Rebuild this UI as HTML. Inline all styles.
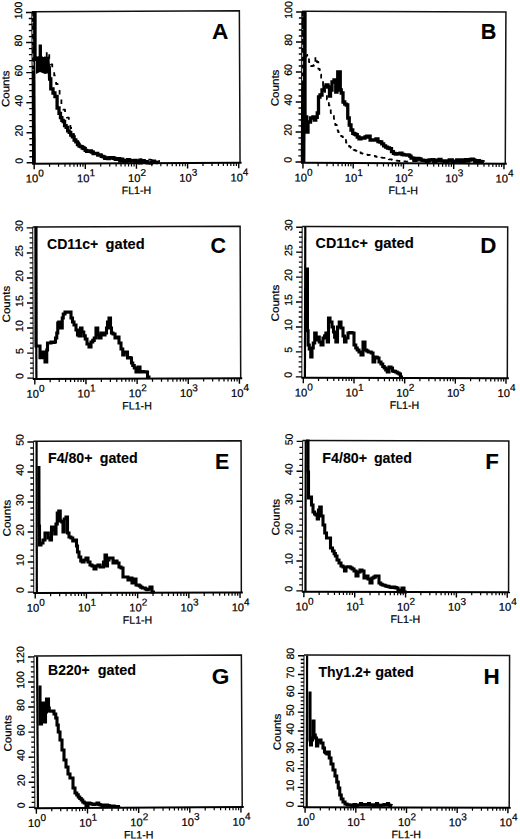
<!DOCTYPE html>
<html><head><meta charset="utf-8"><style>
html,body{margin:0;padding:0;background:#fff;}
svg{display:block;}
text{font-family:"Liberation Sans", sans-serif;fill:#000;stroke:#000;stroke-width:0.22px;}
text[font-weight=bold]{stroke-width:0.1px;}
</style></head><body>
<svg width="520" height="839" viewBox="0 0 520 839">
<rect width="520" height="839" fill="#fff"/>
<g transform="rotate(-0.26 136.0 87.2)"><path d="M32.3 11.2H239.7V163.2" fill="none" stroke="#111" stroke-width="1.5"/><path d="M33.6 11.2V163.2" stroke="#000" stroke-width="3.8"/><path d="M33.1 13.5V70" stroke="#fff" stroke-width="0.9" stroke-dasharray="4.2 3.7"/><path d="M31.8 163.2H241.2" stroke="#000" stroke-width="2"/><path d="M26.3 162.3H32.3" stroke="#000" stroke-width="1.4"/><path d="M29.1 156.29H32.3" stroke="#000" stroke-width="1.3"/><path d="M29.1 150.28H32.3" stroke="#000" stroke-width="1.3"/><path d="M29.1 144.26H32.3" stroke="#000" stroke-width="1.3"/><path d="M29.1 138.25H32.3" stroke="#000" stroke-width="1.3"/><path d="M26.3 132.24H32.3" stroke="#000" stroke-width="1.4"/><path d="M29.1 126.23H32.3" stroke="#000" stroke-width="1.3"/><path d="M29.1 120.22H32.3" stroke="#000" stroke-width="1.3"/><path d="M29.1 114.2H32.3" stroke="#000" stroke-width="1.3"/><path d="M29.1 108.19H32.3" stroke="#000" stroke-width="1.3"/><path d="M26.3 102.18H32.3" stroke="#000" stroke-width="1.4"/><path d="M29.1 96.17H32.3" stroke="#000" stroke-width="1.3"/><path d="M29.1 90.16H32.3" stroke="#000" stroke-width="1.3"/><path d="M29.1 84.14H32.3" stroke="#000" stroke-width="1.3"/><path d="M29.1 78.13H32.3" stroke="#000" stroke-width="1.3"/><path d="M26.3 72.12H32.3" stroke="#000" stroke-width="1.4"/><path d="M29.1 66.11H32.3" stroke="#000" stroke-width="1.3"/><path d="M29.1 60.1H32.3" stroke="#000" stroke-width="1.3"/><path d="M29.1 54.08H32.3" stroke="#000" stroke-width="1.3"/><path d="M29.1 48.07H32.3" stroke="#000" stroke-width="1.3"/><path d="M26.3 42.06H32.3" stroke="#000" stroke-width="1.4"/><path d="M29.1 36.05H32.3" stroke="#000" stroke-width="1.3"/><path d="M29.1 30.04H32.3" stroke="#000" stroke-width="1.3"/><path d="M29.1 24.02H32.3" stroke="#000" stroke-width="1.3"/><path d="M29.1 18.01H32.3" stroke="#000" stroke-width="1.3"/><path d="M26.3 12H32.3" stroke="#000" stroke-width="1.4"/><path d="M33.8 163.2V168.7" stroke="#000" stroke-width="1.4"/><path d="M49.2 163.2V166.4" stroke="#000" stroke-width="1.2"/><path d="M58.2 163.2V166.4" stroke="#000" stroke-width="1.2"/><path d="M64.6 163.2V166.4" stroke="#000" stroke-width="1.2"/><path d="M69.55 163.2V166.4" stroke="#000" stroke-width="1.2"/><path d="M73.6 163.2V166.4" stroke="#000" stroke-width="1.2"/><path d="M77.03 163.2V166.4" stroke="#000" stroke-width="1.2"/><path d="M79.99 163.2V166.4" stroke="#000" stroke-width="1.2"/><path d="M82.61 163.2V166.4" stroke="#000" stroke-width="1.2"/><path d="M84.95 163.2V168.7" stroke="#000" stroke-width="1.4"/><path d="M100.35 163.2V166.4" stroke="#000" stroke-width="1.2"/><path d="M109.35 163.2V166.4" stroke="#000" stroke-width="1.2"/><path d="M115.75 163.2V166.4" stroke="#000" stroke-width="1.2"/><path d="M120.7 163.2V166.4" stroke="#000" stroke-width="1.2"/><path d="M124.75 163.2V166.4" stroke="#000" stroke-width="1.2"/><path d="M128.18 163.2V166.4" stroke="#000" stroke-width="1.2"/><path d="M131.14 163.2V166.4" stroke="#000" stroke-width="1.2"/><path d="M133.76 163.2V166.4" stroke="#000" stroke-width="1.2"/><path d="M136.1 163.2V168.7" stroke="#000" stroke-width="1.4"/><path d="M151.5 163.2V166.4" stroke="#000" stroke-width="1.2"/><path d="M160.5 163.2V166.4" stroke="#000" stroke-width="1.2"/><path d="M166.9 163.2V166.4" stroke="#000" stroke-width="1.2"/><path d="M171.85 163.2V166.4" stroke="#000" stroke-width="1.2"/><path d="M175.9 163.2V166.4" stroke="#000" stroke-width="1.2"/><path d="M179.33 163.2V166.4" stroke="#000" stroke-width="1.2"/><path d="M182.29 163.2V166.4" stroke="#000" stroke-width="1.2"/><path d="M184.91 163.2V166.4" stroke="#000" stroke-width="1.2"/><path d="M187.25 163.2V168.7" stroke="#000" stroke-width="1.4"/><path d="M202.65 163.2V166.4" stroke="#000" stroke-width="1.2"/><path d="M211.65 163.2V166.4" stroke="#000" stroke-width="1.2"/><path d="M218.05 163.2V166.4" stroke="#000" stroke-width="1.2"/><path d="M223 163.2V166.4" stroke="#000" stroke-width="1.2"/><path d="M227.05 163.2V166.4" stroke="#000" stroke-width="1.2"/><path d="M230.48 163.2V166.4" stroke="#000" stroke-width="1.2"/><path d="M233.44 163.2V166.4" stroke="#000" stroke-width="1.2"/><path d="M236.06 163.2V166.4" stroke="#000" stroke-width="1.2"/><path d="M238.4 163.2V168.7" stroke="#000" stroke-width="1.4"/><text transform="translate(22.3 160.3) rotate(-90)" text-anchor="middle" font-size="10.5">0</text><text transform="translate(22.3 130.24) rotate(-90)" text-anchor="middle" font-size="10.5">20</text><text transform="translate(22.3 100.18) rotate(-90)" text-anchor="middle" font-size="10.5">40</text><text transform="translate(22.3 70.12) rotate(-90)" text-anchor="middle" font-size="10.5">60</text><text transform="translate(22.3 40.06) rotate(-90)" text-anchor="middle" font-size="10.5">80</text><text transform="translate(22.3 10) rotate(-90)" text-anchor="middle" font-size="10.5">100</text><text transform="translate(9.2 88.2) rotate(-90)" text-anchor="middle" font-size="10.6" textLength="36.7" lengthAdjust="spacingAndGlyphs">Counts</text><text x="34.4" y="181.9" text-anchor="middle" font-size="11.2">10<tspan dy="-5.9" font-size="10">0</tspan></text><text x="85.55" y="181.9" text-anchor="middle" font-size="11.2">10<tspan dy="-5.9" font-size="10">1</tspan></text><text x="136.7" y="181.9" text-anchor="middle" font-size="11.2">10<tspan dy="-5.9" font-size="10">2</tspan></text><text x="187.85" y="181.9" text-anchor="middle" font-size="11.2">10<tspan dy="-5.9" font-size="10">3</tspan></text><text x="239" y="181.9" text-anchor="middle" font-size="11.2">10<tspan dy="-5.9" font-size="10">4</tspan></text><text x="135.95" y="194.1" text-anchor="middle" font-size="10.8" textLength="29.5" lengthAdjust="spacingAndGlyphs">FL1-H</text></g><text x="211.94" y="39.40" font-size="22" font-weight="bold" textLength="16.36" lengthAdjust="spacingAndGlyphs">A</text><path d="M36 57 L48 57 L49.5 64 L49.5 73 L45 74 L40 72 L36 74Z" fill="#000"/><path d="M33.2 11.8 L33.2 60 L33.9 60 L33.9 60.75 L35.3 60.75 L35.3 62 L36 62 L37 62 L37 59.75 L39 59.75 L39 58 L40 58 L41 58 L41 57.22 L43 57.22 L43 56 L44 56 L45 56 L45 56 L46 56 L46.75 56 L46.75 51 L47.5 51 L48 51 L48 51 L48.5 51 L49.25 51 L49.25 60 L50 60 L50.75 60 L50.75 64.31 L52.25 64.31 L52.25 68.7 L53 68.7 L54.2 68.7 L54.2 75.4 L55.4 75.4 L56.1 75.4 L56.1 84 L56.8 84 L57.65 84 L57.65 89 L58.5 89 L59.6 89 L59.6 94.6 L60.7 94.6 L61.4 94.6 L61.4 105.2 L62.1 105.2 L63.07 105.2 L63.07 109.62 L65.03 109.62 L65.03 114 L66 114 L66.95 114 L66.95 117.63 L68.85 117.63 L68.85 121 L69.8 121 L70.4 121 L70.4 128 L71 128 L72 128 L72 134 L73 134 L74 134 L74 137.13 L76 137.13 L76 140.5 L77 140.5 L77.75 140.5 L77.75 142.28 L79.25 142.28 L79.25 143.66 L80.75 143.66 L80.75 145.24 L82.25 145.24 L82.25 146.5 L83 146.5 L83.88 146.5 L83.88 147.38 L85.62 147.38 L85.62 148.43 L87.38 148.43 L87.38 149.85 L89.12 149.85 L89.12 150.8 L90 150.8 L90.8 150.8 L90.8 151.54 L92.4 151.54 L92.4 151.83 L94 151.83 L94 152.95 L95.6 152.95 L95.6 153.44 L97.2 153.44 L97.2 154 L98 154 L98.75 154 L98.75 154.4 L100.25 154.4 L100.25 154.52 L101.75 154.52 L101.75 155.23 L103.25 155.23 L103.25 155.68 L104.75 155.68 L104.75 155.78 L106.25 155.78 L106.25 156.13 L107.75 156.13 L107.75 156.89 L109.25 156.89 L109.25 157 L110 157 L110.83 157 L110.83 157.37 L112.5 157.37 L112.5 157.32 L114.17 157.32 L114.17 157.5 L115.83 157.5 L115.83 158.02 L117.5 158.02 L117.5 158.38 L119.17 158.38 L119.17 158.8 L120.83 158.8 L120.83 158.89 L122.5 158.89 L122.5 159.1 L124.17 159.1 L124.17 159.3 L125 159.3 L125.83 159.3 L125.83 159.1 L127.5 159.1 L127.5 159.54 L129.17 159.54 L129.17 159.45 L130.83 159.45 L130.83 159.52 L132.5 159.52 L132.5 159.72 L134.17 159.72 L134.17 159.8 L135 159.8 L135.75 159.8 L135.75 159.75 L137.25 159.75 L137.25 159.78 L138.75 159.78 L138.75 159.29 L140.25 159.29 L140.25 159.2 L141 159.2 L141.75 159.2 L141.75 159.39 L143.25 159.39 L143.25 159.35 L144.75 159.35 L144.75 159.19 L146.25 159.19 L146.25 159.65 L147.75 159.65 L147.75 159.73 L149.25 159.73 L149.25 159.6 L150 159.6 L150.83 159.6 L150.83 159.95 L152.5 159.95 L152.5 160.39 L154.17 160.39 L154.17 160.35 L155.83 160.35 L155.83 160.89 L157.5 160.89 L157.5 160.94 L159.17 160.94 L159.17 161.5 L160 161.5" fill="none" stroke="#000" stroke-width="1.8" stroke-dasharray="4.5 7" stroke-linejoin="round"/><path d="M35 11.5 L35 58 L35.88 58 L35.88 59.26 L37.65 59.26 L37.65 58.82 L39.42 58.82 L39.42 58 L40.3 58 L40.3 44.5 L40.35 58 L41.01 58 L41.01 59.43 L42.34 59.43 L42.34 60 L43 60 L43 66 L44 66 L44 66 L45 66 L45 59 L45.75 59 L45.75 58.06 L47.25 58.06 L47.25 59 L48 59 L48 66 L48.65 66 L48.65 68 L49.3 68 L49.6 79 L50.8 79 L50.8 88.8 L52 88.8 L53 88.8 L53 93 L54 93 L54.95 93 L54.95 96.5 L55.9 96.5 L57.1 96.5 L57.1 108 L58.3 108 L59.02 108 L59.02 113.38 L60.48 113.38 L60.48 117.7 L61.2 117.7 L61.85 117.7 L61.85 120.42 L63.15 120.42 L63.15 121.5 L63.8 121.5 L64.57 121.5 L64.57 125.55 L66.12 125.55 L66.12 127.3 L66.9 127.3 L67.67 127.3 L67.67 130.88 L69.2 130.88 L69.2 132.33 L70.73 132.33 L70.73 135 L71.5 135 L72.38 135 L72.38 136.9 L74.12 136.9 L74.12 140 L75 140 L75.83 140 L75.83 141.97 L77.47 141.97 L77.47 144.6 L78.3 144.6 L79.08 144.6 L79.08 146.11 L80.65 146.11 L80.65 146.53 L82.22 146.53 L82.22 148 L83 148 L83.73 148 L83.73 148.53 L85.18 148.53 L85.18 150.3 L86.62 150.3 L86.62 151.32 L88.08 151.32 L88.08 151.3 L88.8 151.3 L89.67 151.3 L89.67 150.97 L91.4 150.97 L91.4 152.02 L93.13 152.02 L93.13 153.5 L94 153.5 L94.75 153.5 L94.75 153.42 L96.25 153.42 L96.25 153.4 L97.75 153.4 L97.75 155.2 L98.5 155.2 L99.42 155.2 L99.42 155.21 L101.25 155.21 L101.25 156.38 L103.08 156.38 L103.08 156.8 L104 156.8 L104.75 156.8 L104.75 158.31 L106.25 158.31 L106.25 157.91 L107.75 157.91 L107.75 158.67 L109.25 158.67 L109.25 158 L110 158 L110.75 158 L110.75 158.17 L112.25 158.17 L112.25 157.53 L113.75 157.53 L113.75 158.32 L115.25 158.32 L115.25 159.3 L116 159.3 L116.75 159.3 L116.75 158.76 L118.25 158.76 L118.25 158.62 L119.75 158.62 L119.75 161.06 L121.25 161.06 L121.25 159.06 L122.75 159.06 L122.75 160.4 L123.5 160.4 L124.31 160.4 L124.31 161.37 L125.94 161.37 L125.94 160.77 L127.56 160.77 L127.56 159.57 L129.19 159.57 L129.19 161 L130 161 L130.88 161 L130.88 160.65 L132.62 160.65 L132.62 161.1 L134.38 161.1 L134.38 160.44 L136.12 160.44 L136.12 161.5 L137 161.5 L137.8 161.5 L137.8 162.08 L139.4 162.08 L139.4 162.75 L141 162.75 L141 161.56 L142.6 161.56 L142.6 160.72 L144.2 160.72 L144.2 162 L145 162 L145.73 162 L145.73 161.72 L147.19 161.72 L147.19 162.88 L148.65 162.88 L148.65 162.84 L150.11 162.84 L150.11 163.19 L151.57 163.19 L151.57 162.3 L152.3 162.3 L153.01 162.3 L153.01 161.14 L154.44 161.14 L154.44 162.1 L155.86 162.1 L155.86 162.3 L157.29 162.3 L157.29 162.6 L158 162.6" fill="none" stroke="#000" stroke-width="3.3" stroke-linejoin="miter" stroke-miterlimit="2"/>
<g transform="rotate(0.24 403.7 87.5)"><path d="M301.8 11.65H505.6V163.3" fill="none" stroke="#111" stroke-width="1.5"/><path d="M303.4 11.65V163.3" stroke="#000" stroke-width="4.6"/><path d="M302.6 13.5V84" stroke="#fff" stroke-width="0.9" stroke-dasharray="4.2 3.7"/><path d="M301.3 163.3H507.1" stroke="#000" stroke-width="2"/><path d="M295.8 162.4H301.8" stroke="#000" stroke-width="1.4"/><path d="M298.6 156.4H301.8" stroke="#000" stroke-width="1.3"/><path d="M298.6 150.4H301.8" stroke="#000" stroke-width="1.3"/><path d="M298.6 144.41H301.8" stroke="#000" stroke-width="1.3"/><path d="M298.6 138.41H301.8" stroke="#000" stroke-width="1.3"/><path d="M295.8 132.41H301.8" stroke="#000" stroke-width="1.4"/><path d="M298.6 126.41H301.8" stroke="#000" stroke-width="1.3"/><path d="M298.6 120.41H301.8" stroke="#000" stroke-width="1.3"/><path d="M298.6 114.42H301.8" stroke="#000" stroke-width="1.3"/><path d="M298.6 108.42H301.8" stroke="#000" stroke-width="1.3"/><path d="M295.8 102.42H301.8" stroke="#000" stroke-width="1.4"/><path d="M298.6 96.42H301.8" stroke="#000" stroke-width="1.3"/><path d="M298.6 90.42H301.8" stroke="#000" stroke-width="1.3"/><path d="M298.6 84.43H301.8" stroke="#000" stroke-width="1.3"/><path d="M298.6 78.43H301.8" stroke="#000" stroke-width="1.3"/><path d="M295.8 72.43H301.8" stroke="#000" stroke-width="1.4"/><path d="M298.6 66.43H301.8" stroke="#000" stroke-width="1.3"/><path d="M298.6 60.43H301.8" stroke="#000" stroke-width="1.3"/><path d="M298.6 54.44H301.8" stroke="#000" stroke-width="1.3"/><path d="M298.6 48.44H301.8" stroke="#000" stroke-width="1.3"/><path d="M295.8 42.44H301.8" stroke="#000" stroke-width="1.4"/><path d="M298.6 36.44H301.8" stroke="#000" stroke-width="1.3"/><path d="M298.6 30.44H301.8" stroke="#000" stroke-width="1.3"/><path d="M298.6 24.45H301.8" stroke="#000" stroke-width="1.3"/><path d="M298.6 18.45H301.8" stroke="#000" stroke-width="1.3"/><path d="M295.8 12.45H301.8" stroke="#000" stroke-width="1.4"/><path d="M303.3 163.3V168.8" stroke="#000" stroke-width="1.4"/><path d="M318.43 163.3V166.5" stroke="#000" stroke-width="1.2"/><path d="M327.28 163.3V166.5" stroke="#000" stroke-width="1.2"/><path d="M333.55 163.3V166.5" stroke="#000" stroke-width="1.2"/><path d="M338.42 163.3V166.5" stroke="#000" stroke-width="1.2"/><path d="M342.4 163.3V166.5" stroke="#000" stroke-width="1.2"/><path d="M345.77 163.3V166.5" stroke="#000" stroke-width="1.2"/><path d="M348.68 163.3V166.5" stroke="#000" stroke-width="1.2"/><path d="M351.25 163.3V166.5" stroke="#000" stroke-width="1.2"/><path d="M353.55 163.3V168.8" stroke="#000" stroke-width="1.4"/><path d="M368.68 163.3V166.5" stroke="#000" stroke-width="1.2"/><path d="M377.53 163.3V166.5" stroke="#000" stroke-width="1.2"/><path d="M383.8 163.3V166.5" stroke="#000" stroke-width="1.2"/><path d="M388.67 163.3V166.5" stroke="#000" stroke-width="1.2"/><path d="M392.65 163.3V166.5" stroke="#000" stroke-width="1.2"/><path d="M396.02 163.3V166.5" stroke="#000" stroke-width="1.2"/><path d="M398.93 163.3V166.5" stroke="#000" stroke-width="1.2"/><path d="M401.5 163.3V166.5" stroke="#000" stroke-width="1.2"/><path d="M403.8 163.3V168.8" stroke="#000" stroke-width="1.4"/><path d="M418.93 163.3V166.5" stroke="#000" stroke-width="1.2"/><path d="M427.78 163.3V166.5" stroke="#000" stroke-width="1.2"/><path d="M434.05 163.3V166.5" stroke="#000" stroke-width="1.2"/><path d="M438.92 163.3V166.5" stroke="#000" stroke-width="1.2"/><path d="M442.9 163.3V166.5" stroke="#000" stroke-width="1.2"/><path d="M446.27 163.3V166.5" stroke="#000" stroke-width="1.2"/><path d="M449.18 163.3V166.5" stroke="#000" stroke-width="1.2"/><path d="M451.75 163.3V166.5" stroke="#000" stroke-width="1.2"/><path d="M454.05 163.3V168.8" stroke="#000" stroke-width="1.4"/><path d="M469.18 163.3V166.5" stroke="#000" stroke-width="1.2"/><path d="M478.03 163.3V166.5" stroke="#000" stroke-width="1.2"/><path d="M484.3 163.3V166.5" stroke="#000" stroke-width="1.2"/><path d="M489.17 163.3V166.5" stroke="#000" stroke-width="1.2"/><path d="M493.15 163.3V166.5" stroke="#000" stroke-width="1.2"/><path d="M496.52 163.3V166.5" stroke="#000" stroke-width="1.2"/><path d="M499.43 163.3V166.5" stroke="#000" stroke-width="1.2"/><path d="M502 163.3V166.5" stroke="#000" stroke-width="1.2"/><path d="M504.3 163.3V168.8" stroke="#000" stroke-width="1.4"/><text transform="translate(291.8 160.4) rotate(-90)" text-anchor="middle" font-size="10.5">0</text><text transform="translate(291.8 130.41) rotate(-90)" text-anchor="middle" font-size="10.5">20</text><text transform="translate(291.8 100.42) rotate(-90)" text-anchor="middle" font-size="10.5">40</text><text transform="translate(291.8 70.43) rotate(-90)" text-anchor="middle" font-size="10.5">60</text><text transform="translate(291.8 40.44) rotate(-90)" text-anchor="middle" font-size="10.5">80</text><text transform="translate(291.8 10.45) rotate(-90)" text-anchor="middle" font-size="10.5">100</text><text transform="translate(278.7 88.48) rotate(-90)" text-anchor="middle" font-size="10.6" textLength="36.7" lengthAdjust="spacingAndGlyphs">Counts</text><text x="303.9" y="182" text-anchor="middle" font-size="11.2">10<tspan dy="-5.9" font-size="10">0</tspan></text><text x="354.15" y="182" text-anchor="middle" font-size="11.2">10<tspan dy="-5.9" font-size="10">1</tspan></text><text x="404.4" y="182" text-anchor="middle" font-size="11.2">10<tspan dy="-5.9" font-size="10">2</tspan></text><text x="454.65" y="182" text-anchor="middle" font-size="11.2">10<tspan dy="-5.9" font-size="10">3</tspan></text><text x="504.9" y="182" text-anchor="middle" font-size="11.2">10<tspan dy="-5.9" font-size="10">4</tspan></text><text x="403.65" y="194.2" text-anchor="middle" font-size="10.8" textLength="29.5" lengthAdjust="spacingAndGlyphs">FL1-H</text></g><text x="480.85" y="38.50" font-size="22" font-weight="bold" textLength="15.63" lengthAdjust="spacingAndGlyphs">B</text><path d="M302.6 12 L302.6 60 L303.8 60 L303.8 57 L305 57 L305.75 57 L305.75 55.71 L307.25 55.71 L307.25 55 L308 55 L309 55 L309 62 L310 62 L311 62 L311 66 L312 66 L312.62 66 L312.62 65.75 L313.88 65.75 L313.88 65 L314.5 65 L315.4 65 L315.4 57.3 L316.3 57.3 L316.9 57.3 L316.9 62 L317.5 62 L318.35 62 L318.35 68.8 L319.2 68.8 L319.7 68.8 L319.7 74.6 L320.2 74.6 L321.15 74.6 L321.15 80.4 L322.1 80.4 L323.05 80.4 L323.05 90 L324 90 L325 90 L325 95 L326 95 L326.95 95 L326.95 99.6 L327.9 99.6 L328.85 99.6 L328.85 105.4 L329.8 105.4 L330.75 105.4 L330.75 113 L331.7 113 L332.42 113 L332.42 115.85 L333.88 115.85 L333.88 118.8 L334.6 118.8 L335.3 118.8 L335.3 125 L336 125 L336.75 125 L336.75 130.4 L337.5 130.4 L338.23 130.4 L338.23 132.18 L339.67 132.18 L339.67 134.2 L340.4 134.2 L341.2 134.2 L341.2 136.31 L342.8 136.31 L342.8 138.12 L344.4 138.12 L344.4 140 L345.2 140 L346 140 L346 142.5 L347.6 142.5 L347.6 144.51 L349.2 144.51 L349.2 146.7 L350 146.7 L350.72 146.7 L350.72 147.89 L352.17 147.89 L352.17 148.41 L353.62 148.41 L353.62 149.9 L355.07 149.9 L355.07 150.6 L355.8 150.6 L356.5 150.6 L356.5 151.13 L357.9 151.13 L357.9 151.82 L359.3 151.82 L359.3 152.5 L360 152.5 L360.9 152.5 L360.9 153.29 L362.7 153.29 L362.7 153.7 L364.5 153.7 L364.5 154.4 L365.4 154.4 L366.16 154.4 L366.16 154.63 L367.68 154.63 L367.68 155.01 L369.2 155.01 L369.2 154.85 L370.72 154.85 L370.72 155.19 L372.24 155.19 L372.24 155.4 L373 155.4 L373.72 155.4 L373.72 155.93 L375.17 155.93 L375.17 156.51 L376.62 156.51 L376.62 156.93 L378.07 156.93 L378.07 157.3 L378.8 157.3 L379.57 157.3 L379.57 157.72 L381.11 157.72 L381.11 157.65 L382.65 157.65 L382.65 157.81 L384.19 157.81 L384.19 157.91 L385.73 157.91 L385.73 158.3 L386.5 158.3 L387.27 158.3 L387.27 158.42 L388.81 158.42 L388.81 159.3 L390.35 159.3 L390.35 159.38 L391.89 159.38 L391.89 159.92 L393.43 159.92 L393.43 160.2 L394.2 160.2 L394.92 160.2 L394.92 160.57 L396.38 160.57 L396.38 160.6 L397.82 160.6 L397.82 160.97 L399.27 160.97 L399.27 161 L400 161 L400.83 161 L400.83 160.82 L402.5 160.82 L402.5 161.46 L404.17 161.46 L404.17 161.28 L405.83 161.28 L405.83 161.59 L407.5 161.59 L407.5 161.4 L409.17 161.4 L409.17 161.5 L410 161.5" fill="none" stroke="#000" stroke-width="1.8" stroke-dasharray="4.5 4.5" stroke-linejoin="round"/><path d="M305 12 L305 117 L305.85 117 L305.85 117 L306.7 117 L306.7 132 L307.35 132 L307.35 132 L308 132 L308 122 L309 122 L309 122 L310 122 L310.5 122 L310.5 118 L311 118 L311.62 118 L311.62 117.91 L312.88 117.91 L312.88 117 L313.5 117 L314.25 117 L314.25 120 L315 120 L315.75 120 L315.75 117.26 L317.25 117.26 L317.25 113 L318 113 L318.5 113 L318.5 97 L319 97 L320 97 L320 95 L321 95 L322 95 L322 90 L323 90 L324 90 L324 87 L325 87 L326 87 L326 85 L327 85 L328 85 L328 87 L329 87 L329.5 87 L329.5 96 L330 96 L330.5 96 L330.5 90 L331 90 L332 90 L332 82 L333 82 L334 82 L334 80 L335 80 L335.75 80 L335.75 92 L336.5 92 L337 92 L337 82 L337.5 82 L337.75 82 L337.75 72 L338 72 L339 72 L339 72 L340 72 L340.25 72 L340.25 90 L340.5 90 L341.25 90 L341.25 93 L342 93 L343 93 L343 102 L344 102 L344.75 102 L344.75 104.09 L346.25 104.09 L346.25 105 L347 105 L347.75 105 L347.75 118 L348.5 118 L349.25 118 L349.25 125 L350 125 L351 125 L351 130 L352 130 L352.75 130 L352.75 133.28 L354.25 133.28 L354.25 134 L355 134 L355.75 134 L355.75 134.73 L357.25 134.73 L357.25 137 L358 137 L359 137 L359 138.75 L361 138.75 L361 138 L362 138 L363 138 L363 138.1 L365 138.1 L365 137 L366 137 L366.8 137 L366.8 136.13 L368.4 136.13 L368.4 136.2 L369.2 136.2 L370.1 136.2 L370.1 140 L371 140 L372 140 L372 140 L373 140 L374 140 L374 140.1 L376 140.1 L376 139 L377 139 L377.95 139 L377.95 141.64 L379.85 141.64 L379.85 142 L380.8 142 L381.75 142 L381.75 143.84 L383.65 143.84 L383.65 145.8 L384.6 145.8 L385.58 145.8 L385.58 147.22 L387.52 147.22 L387.52 148 L388.5 148 L389.5 148 L389.5 148.67 L391.5 148.67 L391.5 151.7 L392.5 151.7 L393.43 151.7 L393.43 153.45 L395.27 153.45 L395.27 154 L396.2 154 L396.9 154 L396.9 153.62 L398.3 153.62 L398.3 153.8 L399 153.8 L400 153.8 L400 153.14 L402 153.14 L402 154.5 L403 154.5 L403.75 154.5 L403.75 154.85 L405.25 154.85 L405.25 154.97 L406.75 154.97 L406.75 155 L407.5 155 L408.2 155 L408.2 155.13 L409.6 155.13 L409.6 156.04 L411 156.04 L411 158 L411.7 158 L412.42 158 L412.42 158.1 L413.85 158.1 L413.85 160.46 L415.28 160.46 L415.28 160 L416 160 L417 160 L417 158.42 L419 158.42 L419 159 L420 159 L421 159 L421 160.14 L423 160.14 L423 160.5 L424 160.5 L424.75 160.5 L424.75 160.43 L426.25 160.43 L426.25 161.38 L427.75 161.38 L427.75 160.8 L429.25 160.8 L429.25 160 L430 160 L430.75 160 L430.75 159.91 L432.25 159.91 L432.25 159.53 L433.75 159.53 L433.75 161.52 L435.25 161.52 L435.25 161 L436 161 L437 161 L437 160.23 L439 160.23 L439 159.5 L440 159.5 L441 159.5 L441 160.8 L443 160.8 L443 161 L444 161 L444.75 161 L444.75 161.24 L446.25 161.24 L446.25 161.3 L447.75 161.3 L447.75 160.94 L449.25 160.94 L449.25 160 L450 160 L450.75 160 L450.75 160.01 L452.25 160.01 L452.25 161.46 L453.75 161.46 L453.75 162.11 L455.25 162.11 L455.25 161.2 L456 161.2 L456.75 161.2 L456.75 159.9 L458.25 159.9 L458.25 159.83 L459.75 159.83 L459.75 161.59 L461.25 161.59 L461.25 160 L462 160 L462.75 160 L462.75 161.26 L464.25 161.26 L464.25 160.96 L465.75 160.96 L465.75 159.66 L467.25 159.66 L467.25 161 L468 161 L468.75 161 L468.75 160.18 L470.25 160.18 L470.25 159.3 L471.75 159.3 L471.75 159.13 L473.25 159.13 L473.25 159.8 L474 159.8 L474.75 159.8 L474.75 161.36 L476.25 161.36 L476.25 161.06 L477.75 161.06 L477.75 160.63 L479.25 160.63 L479.25 161.5 L480 161.5 L481 161.5 L481 161.58 L483 161.58 L483 162 L484 162" fill="none" stroke="#000" stroke-width="3.3" stroke-linejoin="miter" stroke-miterlimit="2"/>
<g transform="rotate(-0.23 136.7 302.6)"><path d="M33 226.65H240.4V378.6" fill="none" stroke="#111" stroke-width="1.5"/><path d="M33 226.65V378.6" stroke="#222" stroke-width="1.1"/><path d="M36.1 227.15V378.6" stroke="#000" stroke-width="2.2"/><path d="M32.5 378.6H241.9" stroke="#000" stroke-width="2"/><path d="M27 377.7H33" stroke="#000" stroke-width="1.4"/><path d="M29.8 372.69H33" stroke="#000" stroke-width="1.3"/><path d="M29.8 367.68H33" stroke="#000" stroke-width="1.3"/><path d="M29.8 362.68H33" stroke="#000" stroke-width="1.3"/><path d="M29.8 357.67H33" stroke="#000" stroke-width="1.3"/><path d="M27 352.66H33" stroke="#000" stroke-width="1.4"/><path d="M29.8 347.65H33" stroke="#000" stroke-width="1.3"/><path d="M29.8 342.64H33" stroke="#000" stroke-width="1.3"/><path d="M29.8 337.63H33" stroke="#000" stroke-width="1.3"/><path d="M29.8 332.63H33" stroke="#000" stroke-width="1.3"/><path d="M27 327.62H33" stroke="#000" stroke-width="1.4"/><path d="M29.8 322.61H33" stroke="#000" stroke-width="1.3"/><path d="M29.8 317.6H33" stroke="#000" stroke-width="1.3"/><path d="M29.8 312.59H33" stroke="#000" stroke-width="1.3"/><path d="M29.8 307.58H33" stroke="#000" stroke-width="1.3"/><path d="M27 302.58H33" stroke="#000" stroke-width="1.4"/><path d="M29.8 297.57H33" stroke="#000" stroke-width="1.3"/><path d="M29.8 292.56H33" stroke="#000" stroke-width="1.3"/><path d="M29.8 287.55H33" stroke="#000" stroke-width="1.3"/><path d="M29.8 282.54H33" stroke="#000" stroke-width="1.3"/><path d="M27 277.53H33" stroke="#000" stroke-width="1.4"/><path d="M29.8 272.53H33" stroke="#000" stroke-width="1.3"/><path d="M29.8 267.52H33" stroke="#000" stroke-width="1.3"/><path d="M29.8 262.51H33" stroke="#000" stroke-width="1.3"/><path d="M29.8 257.5H33" stroke="#000" stroke-width="1.3"/><path d="M27 252.49H33" stroke="#000" stroke-width="1.4"/><path d="M29.8 247.48H33" stroke="#000" stroke-width="1.3"/><path d="M29.8 242.48H33" stroke="#000" stroke-width="1.3"/><path d="M29.8 237.47H33" stroke="#000" stroke-width="1.3"/><path d="M29.8 232.46H33" stroke="#000" stroke-width="1.3"/><path d="M27 227.45H33" stroke="#000" stroke-width="1.4"/><path d="M34.5 378.6V384.1" stroke="#000" stroke-width="1.4"/><path d="M49.9 378.6V381.8" stroke="#000" stroke-width="1.2"/><path d="M58.9 378.6V381.8" stroke="#000" stroke-width="1.2"/><path d="M65.3 378.6V381.8" stroke="#000" stroke-width="1.2"/><path d="M70.25 378.6V381.8" stroke="#000" stroke-width="1.2"/><path d="M74.3 378.6V381.8" stroke="#000" stroke-width="1.2"/><path d="M77.73 378.6V381.8" stroke="#000" stroke-width="1.2"/><path d="M80.69 378.6V381.8" stroke="#000" stroke-width="1.2"/><path d="M83.31 378.6V381.8" stroke="#000" stroke-width="1.2"/><path d="M85.65 378.6V384.1" stroke="#000" stroke-width="1.4"/><path d="M101.05 378.6V381.8" stroke="#000" stroke-width="1.2"/><path d="M110.05 378.6V381.8" stroke="#000" stroke-width="1.2"/><path d="M116.45 378.6V381.8" stroke="#000" stroke-width="1.2"/><path d="M121.4 378.6V381.8" stroke="#000" stroke-width="1.2"/><path d="M125.45 378.6V381.8" stroke="#000" stroke-width="1.2"/><path d="M128.88 378.6V381.8" stroke="#000" stroke-width="1.2"/><path d="M131.84 378.6V381.8" stroke="#000" stroke-width="1.2"/><path d="M134.46 378.6V381.8" stroke="#000" stroke-width="1.2"/><path d="M136.8 378.6V384.1" stroke="#000" stroke-width="1.4"/><path d="M152.2 378.6V381.8" stroke="#000" stroke-width="1.2"/><path d="M161.2 378.6V381.8" stroke="#000" stroke-width="1.2"/><path d="M167.6 378.6V381.8" stroke="#000" stroke-width="1.2"/><path d="M172.55 378.6V381.8" stroke="#000" stroke-width="1.2"/><path d="M176.6 378.6V381.8" stroke="#000" stroke-width="1.2"/><path d="M180.03 378.6V381.8" stroke="#000" stroke-width="1.2"/><path d="M182.99 378.6V381.8" stroke="#000" stroke-width="1.2"/><path d="M185.61 378.6V381.8" stroke="#000" stroke-width="1.2"/><path d="M187.95 378.6V384.1" stroke="#000" stroke-width="1.4"/><path d="M203.35 378.6V381.8" stroke="#000" stroke-width="1.2"/><path d="M212.35 378.6V381.8" stroke="#000" stroke-width="1.2"/><path d="M218.75 378.6V381.8" stroke="#000" stroke-width="1.2"/><path d="M223.7 378.6V381.8" stroke="#000" stroke-width="1.2"/><path d="M227.75 378.6V381.8" stroke="#000" stroke-width="1.2"/><path d="M231.18 378.6V381.8" stroke="#000" stroke-width="1.2"/><path d="M234.14 378.6V381.8" stroke="#000" stroke-width="1.2"/><path d="M236.76 378.6V381.8" stroke="#000" stroke-width="1.2"/><path d="M239.1 378.6V384.1" stroke="#000" stroke-width="1.4"/><text transform="translate(23 375.7) rotate(-90)" text-anchor="middle" font-size="10.5">0</text><text transform="translate(23 350.66) rotate(-90)" text-anchor="middle" font-size="10.5">5</text><text transform="translate(23 325.62) rotate(-90)" text-anchor="middle" font-size="10.5">10</text><text transform="translate(23 300.58) rotate(-90)" text-anchor="middle" font-size="10.5">15</text><text transform="translate(23 275.53) rotate(-90)" text-anchor="middle" font-size="10.5">20</text><text transform="translate(23 250.49) rotate(-90)" text-anchor="middle" font-size="10.5">25</text><text transform="translate(23 225.45) rotate(-90)" text-anchor="middle" font-size="10.5">30</text><text transform="translate(9.9 303.62) rotate(-90)" text-anchor="middle" font-size="10.6" textLength="36.7" lengthAdjust="spacingAndGlyphs">Counts</text><text x="35.1" y="397.3" text-anchor="middle" font-size="11.2">10<tspan dy="-5.9" font-size="10">0</tspan></text><text x="86.25" y="397.3" text-anchor="middle" font-size="11.2">10<tspan dy="-5.9" font-size="10">1</tspan></text><text x="137.4" y="397.3" text-anchor="middle" font-size="11.2">10<tspan dy="-5.9" font-size="10">2</tspan></text><text x="188.55" y="397.3" text-anchor="middle" font-size="11.2">10<tspan dy="-5.9" font-size="10">3</tspan></text><text x="239.7" y="397.3" text-anchor="middle" font-size="11.2">10<tspan dy="-5.9" font-size="10">4</tspan></text><text x="136.65" y="409.5" text-anchor="middle" font-size="10.8" textLength="29.5" lengthAdjust="spacingAndGlyphs">FL1-H</text></g><text x="210.42" y="252.60" font-size="22" font-weight="bold" textLength="15.46" lengthAdjust="spacingAndGlyphs">C</text><text x="47.03" y="249.40" font-size="14" font-weight="bold" textLength="51.33" lengthAdjust="spacingAndGlyphs">CD11c+</text><text x="105.60" y="249.40" font-size="14" font-weight="bold" textLength="39.07" lengthAdjust="spacingAndGlyphs">gated</text><path d="M36 226.5 L36 346 L37 346 L37 346.03 L39 346.03 L39 346 L40 346 L40 357.7 L40.75 357.7 L40.75 357.19 L42.25 357.19 L42.25 357.7 L43 357.7 L43 352 L44 352 L44 352 L45 352 L45 362 L45.75 362 L45.75 362 L46.5 362 L46.75 362 L46.75 350 L47 350 L47.5 350 L47.5 343 L48 343 L49 343 L49 343 L50 343 L51 343 L51 342 L52 342 L52.75 342 L52.75 342.33 L54.25 342.33 L54.25 342 L55 342 L55.5 342 L55.5 338 L56 338 L56.75 338 L56.75 333 L57.5 333 L57.75 333 L57.75 323 L58 323 L58.75 323 L58.75 322 L59.5 322 L60.25 322 L60.25 328 L61 328 L61.5 328 L61.5 328 L62 328 L62.25 328 L62.25 318 L62.5 318 L63.25 318 L63.25 314 L64 314 L65 314 L65 312 L66 312 L67 312 L67 312.12 L69 312.12 L69 312 L70 312 L71 312 L71 318 L72 318 L72.5 318 L72.5 322 L73 322 L74 322 L74 325 L75 325 L76 325 L76 330 L77 330 L77.5 330 L77.5 335 L78 335 L79 335 L79 336 L80 336 L80.5 336 L80.5 328 L81 328 L82 328 L82 332 L83 332 L83.75 332 L83.75 335.88 L85.25 335.88 L85.25 339 L86 339 L87 339 L87 344 L88 344 L89 344 L89 347 L90 347 L91 347 L91 342 L92 342 L92.75 342 L92.75 340.34 L94.25 340.34 L94.25 338 L95 338 L96 338 L96 328 L97 328 L97.75 328 L97.75 335 L98.5 335 L99.25 335 L99.25 338 L100 338 L101 338 L101 333 L102 333 L103 333 L103 335 L104 335 L105 335 L105 333 L106 333 L106.5 333 L106.5 328 L107 328 L107.5 328 L107.5 322 L108 322 L109 322 L109 318 L110 318 L110.5 318 L110.5 328 L111 328 L111.5 328 L111.5 333 L112 333 L113 333 L113 334 L114 334 L115 334 L115 338 L116 338 L117 338 L117 337 L118 337 L119 337 L119 343 L120 343 L121 343 L121 349 L122 349 L122.75 349 L122.75 355 L123.5 355 L124.25 355 L124.25 352 L125 352 L126 352 L126 352 L127 352 L127.5 352 L127.5 358 L128 358 L128.75 358 L128.75 357.48 L130.25 357.48 L130.25 358 L131 358 L131.5 358 L131.5 363 L132 363 L132.75 363 L132.75 365.43 L134.25 365.43 L134.25 368 L135 368 L136 368 L136 372 L137 372 L138 372 L138 367 L139 367 L140 367 L140 372 L141 372 L141.75 372 L141.75 371.44 L143.25 371.44 L143.25 372 L144 372 L144.75 372 L144.75 371.82 L146.25 371.82 L146.25 372 L147 372 L147.5 372 L147.5 377 L148 377 L149 377 L149 377.5 L150 377.5" fill="none" stroke="#000" stroke-width="3.1" stroke-linejoin="miter" stroke-miterlimit="2"/>
<g transform="rotate(0.14 404.8 302.4)"><path d="M302 226.7H507.5V378" fill="none" stroke="#111" stroke-width="1.5"/><path d="M302 226.7V378" stroke="#222" stroke-width="1.1"/><path d="M305.1 227.2V378" stroke="#000" stroke-width="2.2"/><path d="M301.5 378H509" stroke="#000" stroke-width="2"/><path d="M296 377.1H302" stroke="#000" stroke-width="1.4"/><path d="M298.8 372.11H302" stroke="#000" stroke-width="1.3"/><path d="M298.8 367.13H302" stroke="#000" stroke-width="1.3"/><path d="M298.8 362.14H302" stroke="#000" stroke-width="1.3"/><path d="M298.8 357.15H302" stroke="#000" stroke-width="1.3"/><path d="M296 352.17H302" stroke="#000" stroke-width="1.4"/><path d="M298.8 347.18H302" stroke="#000" stroke-width="1.3"/><path d="M298.8 342.19H302" stroke="#000" stroke-width="1.3"/><path d="M298.8 337.21H302" stroke="#000" stroke-width="1.3"/><path d="M298.8 332.22H302" stroke="#000" stroke-width="1.3"/><path d="M296 327.23H302" stroke="#000" stroke-width="1.4"/><path d="M298.8 322.25H302" stroke="#000" stroke-width="1.3"/><path d="M298.8 317.26H302" stroke="#000" stroke-width="1.3"/><path d="M298.8 312.27H302" stroke="#000" stroke-width="1.3"/><path d="M298.8 307.29H302" stroke="#000" stroke-width="1.3"/><path d="M296 302.3H302" stroke="#000" stroke-width="1.4"/><path d="M298.8 297.31H302" stroke="#000" stroke-width="1.3"/><path d="M298.8 292.33H302" stroke="#000" stroke-width="1.3"/><path d="M298.8 287.34H302" stroke="#000" stroke-width="1.3"/><path d="M298.8 282.35H302" stroke="#000" stroke-width="1.3"/><path d="M296 277.37H302" stroke="#000" stroke-width="1.4"/><path d="M298.8 272.38H302" stroke="#000" stroke-width="1.3"/><path d="M298.8 267.39H302" stroke="#000" stroke-width="1.3"/><path d="M298.8 262.41H302" stroke="#000" stroke-width="1.3"/><path d="M298.8 257.42H302" stroke="#000" stroke-width="1.3"/><path d="M296 252.43H302" stroke="#000" stroke-width="1.4"/><path d="M298.8 247.45H302" stroke="#000" stroke-width="1.3"/><path d="M298.8 242.46H302" stroke="#000" stroke-width="1.3"/><path d="M298.8 237.47H302" stroke="#000" stroke-width="1.3"/><path d="M298.8 232.49H302" stroke="#000" stroke-width="1.3"/><path d="M296 227.5H302" stroke="#000" stroke-width="1.4"/><path d="M303.5 378V383.5" stroke="#000" stroke-width="1.4"/><path d="M318.75 378V381.2" stroke="#000" stroke-width="1.2"/><path d="M327.68 378V381.2" stroke="#000" stroke-width="1.2"/><path d="M334.01 378V381.2" stroke="#000" stroke-width="1.2"/><path d="M338.92 378V381.2" stroke="#000" stroke-width="1.2"/><path d="M342.93 378V381.2" stroke="#000" stroke-width="1.2"/><path d="M346.33 378V381.2" stroke="#000" stroke-width="1.2"/><path d="M349.26 378V381.2" stroke="#000" stroke-width="1.2"/><path d="M351.86 378V381.2" stroke="#000" stroke-width="1.2"/><path d="M354.18 378V383.5" stroke="#000" stroke-width="1.4"/><path d="M369.43 378V381.2" stroke="#000" stroke-width="1.2"/><path d="M378.35 378V381.2" stroke="#000" stroke-width="1.2"/><path d="M384.68 378V381.2" stroke="#000" stroke-width="1.2"/><path d="M389.6 378V381.2" stroke="#000" stroke-width="1.2"/><path d="M393.61 378V381.2" stroke="#000" stroke-width="1.2"/><path d="M397 378V381.2" stroke="#000" stroke-width="1.2"/><path d="M399.94 378V381.2" stroke="#000" stroke-width="1.2"/><path d="M402.53 378V381.2" stroke="#000" stroke-width="1.2"/><path d="M404.85 378V383.5" stroke="#000" stroke-width="1.4"/><path d="M420.1 378V381.2" stroke="#000" stroke-width="1.2"/><path d="M429.03 378V381.2" stroke="#000" stroke-width="1.2"/><path d="M435.36 378V381.2" stroke="#000" stroke-width="1.2"/><path d="M440.27 378V381.2" stroke="#000" stroke-width="1.2"/><path d="M444.28 378V381.2" stroke="#000" stroke-width="1.2"/><path d="M447.68 378V381.2" stroke="#000" stroke-width="1.2"/><path d="M450.61 378V381.2" stroke="#000" stroke-width="1.2"/><path d="M453.21 378V381.2" stroke="#000" stroke-width="1.2"/><path d="M455.52 378V383.5" stroke="#000" stroke-width="1.4"/><path d="M470.78 378V381.2" stroke="#000" stroke-width="1.2"/><path d="M479.7 378V381.2" stroke="#000" stroke-width="1.2"/><path d="M486.03 378V381.2" stroke="#000" stroke-width="1.2"/><path d="M490.95 378V381.2" stroke="#000" stroke-width="1.2"/><path d="M494.96 378V381.2" stroke="#000" stroke-width="1.2"/><path d="M498.35 378V381.2" stroke="#000" stroke-width="1.2"/><path d="M501.29 378V381.2" stroke="#000" stroke-width="1.2"/><path d="M503.88 378V381.2" stroke="#000" stroke-width="1.2"/><path d="M506.2 378V383.5" stroke="#000" stroke-width="1.4"/><text transform="translate(292 375.1) rotate(-90)" text-anchor="middle" font-size="10.5">0</text><text transform="translate(292 350.17) rotate(-90)" text-anchor="middle" font-size="10.5">5</text><text transform="translate(292 325.23) rotate(-90)" text-anchor="middle" font-size="10.5">10</text><text transform="translate(292 300.3) rotate(-90)" text-anchor="middle" font-size="10.5">15</text><text transform="translate(292 275.37) rotate(-90)" text-anchor="middle" font-size="10.5">20</text><text transform="translate(292 250.43) rotate(-90)" text-anchor="middle" font-size="10.5">25</text><text transform="translate(292 225.5) rotate(-90)" text-anchor="middle" font-size="10.5">30</text><text transform="translate(278.9 303.35) rotate(-90)" text-anchor="middle" font-size="10.6" textLength="36.7" lengthAdjust="spacingAndGlyphs">Counts</text><text x="304.1" y="396.7" text-anchor="middle" font-size="11.2">10<tspan dy="-5.9" font-size="10">0</tspan></text><text x="354.78" y="396.7" text-anchor="middle" font-size="11.2">10<tspan dy="-5.9" font-size="10">1</tspan></text><text x="405.45" y="396.7" text-anchor="middle" font-size="11.2">10<tspan dy="-5.9" font-size="10">2</tspan></text><text x="456.12" y="396.7" text-anchor="middle" font-size="11.2">10<tspan dy="-5.9" font-size="10">3</tspan></text><text x="506.8" y="396.7" text-anchor="middle" font-size="11.2">10<tspan dy="-5.9" font-size="10">4</tspan></text><text x="404.7" y="408.9" text-anchor="middle" font-size="10.8" textLength="29.5" lengthAdjust="spacingAndGlyphs">FL1-H</text></g><text x="480.31" y="252.80" font-size="22" font-weight="bold" textLength="16.13" lengthAdjust="spacingAndGlyphs">D</text><text x="315.62" y="248.40" font-size="14" font-weight="bold" textLength="52.15" lengthAdjust="spacingAndGlyphs">CD11c+</text><text x="374.19" y="248.40" font-size="14" font-weight="bold" textLength="39.69" lengthAdjust="spacingAndGlyphs">gated</text><path d="M305.5 269 L306.35 269 L306.35 269 L307.2 269 L307.45 269 L307.45 330.8 L307.7 330.8 L308.1 330.8 L308.1 345 L308.5 345 L309.25 345 L309.25 349 L310 349 L310.75 349 L310.75 357 L311.5 357 L312 357 L312 348 L312.5 348 L313.25 348 L313.25 343 L314 343 L314.7 343 L314.7 333 L315.4 333 L316.2 333 L316.2 340 L317 340 L317.75 340 L317.75 337 L318.5 337 L319.25 337 L319.25 342 L320 342 L321 342 L321 345 L322 345 L323 345 L323 338 L324 338 L324.62 338 L324.62 335.72 L325.88 335.72 L325.88 333 L326.5 333 L327.25 333 L327.25 342 L328 342 L328.5 342 L328.5 318 L329 318 L330 318 L330 322 L331 322 L332 322 L332 327 L333 327 L333.5 327 L333.5 332 L334 332 L334.62 332 L334.62 337.28 L335.88 337.28 L335.88 342 L336.5 342 L337.5 342 L337.5 327 L338.5 327 L339.25 327 L339.25 322 L340 322 L341 322 L341 328 L342 328 L343 328 L343 336 L344 336 L344.5 336 L344.5 342 L345 342 L346 342 L346 338 L347 338 L348 338 L348 333 L349 333 L350 333 L350 332.67 L352 332.67 L352 333 L353 333 L354 333 L354 345 L355 345 L355.75 345 L355.75 347.97 L357.25 347.97 L357.25 350 L358 350 L359 350 L359 352 L360 352 L361 352 L361 355 L362 355 L363 355 L363 342 L364 342 L365 342 L365 350 L366 350 L366.75 350 L366.75 351.02 L368.25 351.02 L368.25 352 L369 352 L369.75 352 L369.75 351.96 L371.25 351.96 L371.25 353 L372 353 L373 353 L373 362 L374 362 L374.75 362 L374.75 357 L375.5 357 L376.12 357 L376.12 357.39 L377.38 357.39 L377.38 358 L378 358 L379 358 L379 362 L380 362 L381 362 L381 364 L382 364 L382.75 364 L382.75 366.49 L384.25 366.49 L384.25 368 L385 368 L385.75 368 L385.75 369.9 L387.25 369.9 L387.25 372 L388 372 L389 372 L389 367 L390 367 L391 367 L391 368 L392 368 L392.5 368 L392.5 371 L393 371 L393.83 371 L393.83 371.4 L395.5 371.4 L395.5 372.05 L397.17 372.05 L397.17 373 L398 373 L399 373 L399 374 L400 374 L400.5 374 L400.5 377 L401 377 L402 377 L402 377 L403 377" fill="none" stroke="#000" stroke-width="3.1" stroke-linejoin="miter" stroke-miterlimit="2"/>
<g transform="rotate(-0.1 137.4 516.9)"><path d="M33.6 441H241.2V592.8" fill="none" stroke="#111" stroke-width="1.5"/><path d="M33.6 441V592.8" stroke="#222" stroke-width="1.1"/><path d="M36.7 441.5V592.8" stroke="#000" stroke-width="2.2"/><path d="M33.1 592.8H242.7" stroke="#000" stroke-width="2"/><path d="M27.6 591.9H33.6" stroke="#000" stroke-width="1.4"/><path d="M30.4 585.9H33.6" stroke="#000" stroke-width="1.3"/><path d="M30.4 579.89H33.6" stroke="#000" stroke-width="1.3"/><path d="M30.4 573.89H33.6" stroke="#000" stroke-width="1.3"/><path d="M30.4 567.88H33.6" stroke="#000" stroke-width="1.3"/><path d="M27.6 561.88H33.6" stroke="#000" stroke-width="1.4"/><path d="M30.4 555.88H33.6" stroke="#000" stroke-width="1.3"/><path d="M30.4 549.87H33.6" stroke="#000" stroke-width="1.3"/><path d="M30.4 543.87H33.6" stroke="#000" stroke-width="1.3"/><path d="M30.4 537.86H33.6" stroke="#000" stroke-width="1.3"/><path d="M27.6 531.86H33.6" stroke="#000" stroke-width="1.4"/><path d="M30.4 525.86H33.6" stroke="#000" stroke-width="1.3"/><path d="M30.4 519.85H33.6" stroke="#000" stroke-width="1.3"/><path d="M30.4 513.85H33.6" stroke="#000" stroke-width="1.3"/><path d="M30.4 507.84H33.6" stroke="#000" stroke-width="1.3"/><path d="M27.6 501.84H33.6" stroke="#000" stroke-width="1.4"/><path d="M30.4 495.84H33.6" stroke="#000" stroke-width="1.3"/><path d="M30.4 489.83H33.6" stroke="#000" stroke-width="1.3"/><path d="M30.4 483.83H33.6" stroke="#000" stroke-width="1.3"/><path d="M30.4 477.82H33.6" stroke="#000" stroke-width="1.3"/><path d="M27.6 471.82H33.6" stroke="#000" stroke-width="1.4"/><path d="M30.4 465.82H33.6" stroke="#000" stroke-width="1.3"/><path d="M30.4 459.81H33.6" stroke="#000" stroke-width="1.3"/><path d="M30.4 453.81H33.6" stroke="#000" stroke-width="1.3"/><path d="M30.4 447.8H33.6" stroke="#000" stroke-width="1.3"/><path d="M27.6 441.8H33.6" stroke="#000" stroke-width="1.4"/><path d="M35.1 592.8V598.3" stroke="#000" stroke-width="1.4"/><path d="M50.51 592.8V596" stroke="#000" stroke-width="1.2"/><path d="M59.53 592.8V596" stroke="#000" stroke-width="1.2"/><path d="M65.93 592.8V596" stroke="#000" stroke-width="1.2"/><path d="M70.89 592.8V596" stroke="#000" stroke-width="1.2"/><path d="M74.94 592.8V596" stroke="#000" stroke-width="1.2"/><path d="M78.37 592.8V596" stroke="#000" stroke-width="1.2"/><path d="M81.34 592.8V596" stroke="#000" stroke-width="1.2"/><path d="M83.96 592.8V596" stroke="#000" stroke-width="1.2"/><path d="M86.3 592.8V598.3" stroke="#000" stroke-width="1.4"/><path d="M101.71 592.8V596" stroke="#000" stroke-width="1.2"/><path d="M110.73 592.8V596" stroke="#000" stroke-width="1.2"/><path d="M117.13 592.8V596" stroke="#000" stroke-width="1.2"/><path d="M122.09 592.8V596" stroke="#000" stroke-width="1.2"/><path d="M126.14 592.8V596" stroke="#000" stroke-width="1.2"/><path d="M129.57 592.8V596" stroke="#000" stroke-width="1.2"/><path d="M132.54 592.8V596" stroke="#000" stroke-width="1.2"/><path d="M135.16 592.8V596" stroke="#000" stroke-width="1.2"/><path d="M137.5 592.8V598.3" stroke="#000" stroke-width="1.4"/><path d="M152.91 592.8V596" stroke="#000" stroke-width="1.2"/><path d="M161.93 592.8V596" stroke="#000" stroke-width="1.2"/><path d="M168.33 592.8V596" stroke="#000" stroke-width="1.2"/><path d="M173.29 592.8V596" stroke="#000" stroke-width="1.2"/><path d="M177.34 592.8V596" stroke="#000" stroke-width="1.2"/><path d="M180.77 592.8V596" stroke="#000" stroke-width="1.2"/><path d="M183.74 592.8V596" stroke="#000" stroke-width="1.2"/><path d="M186.36 592.8V596" stroke="#000" stroke-width="1.2"/><path d="M188.7 592.8V598.3" stroke="#000" stroke-width="1.4"/><path d="M204.11 592.8V596" stroke="#000" stroke-width="1.2"/><path d="M213.13 592.8V596" stroke="#000" stroke-width="1.2"/><path d="M219.53 592.8V596" stroke="#000" stroke-width="1.2"/><path d="M224.49 592.8V596" stroke="#000" stroke-width="1.2"/><path d="M228.54 592.8V596" stroke="#000" stroke-width="1.2"/><path d="M231.97 592.8V596" stroke="#000" stroke-width="1.2"/><path d="M234.94 592.8V596" stroke="#000" stroke-width="1.2"/><path d="M237.56 592.8V596" stroke="#000" stroke-width="1.2"/><path d="M239.9 592.8V598.3" stroke="#000" stroke-width="1.4"/><text transform="translate(23.6 589.9) rotate(-90)" text-anchor="middle" font-size="10.5">0</text><text transform="translate(23.6 559.88) rotate(-90)" text-anchor="middle" font-size="10.5">10</text><text transform="translate(23.6 529.86) rotate(-90)" text-anchor="middle" font-size="10.5">20</text><text transform="translate(23.6 499.84) rotate(-90)" text-anchor="middle" font-size="10.5">30</text><text transform="translate(23.6 469.82) rotate(-90)" text-anchor="middle" font-size="10.5">40</text><text transform="translate(23.6 439.8) rotate(-90)" text-anchor="middle" font-size="10.5">50</text><text transform="translate(10.5 517.9) rotate(-90)" text-anchor="middle" font-size="10.6" textLength="36.7" lengthAdjust="spacingAndGlyphs">Counts</text><text x="35.7" y="611.5" text-anchor="middle" font-size="11.2">10<tspan dy="-5.9" font-size="10">0</tspan></text><text x="86.9" y="611.5" text-anchor="middle" font-size="11.2">10<tspan dy="-5.9" font-size="10">1</tspan></text><text x="138.1" y="611.5" text-anchor="middle" font-size="11.2">10<tspan dy="-5.9" font-size="10">2</tspan></text><text x="189.3" y="611.5" text-anchor="middle" font-size="11.2">10<tspan dy="-5.9" font-size="10">3</tspan></text><text x="240.5" y="611.5" text-anchor="middle" font-size="11.2">10<tspan dy="-5.9" font-size="10">4</tspan></text><text x="137.35" y="623.7" text-anchor="middle" font-size="10.8" textLength="29.5" lengthAdjust="spacingAndGlyphs">FL1-H</text></g><text x="215.07" y="468.60" font-size="22" font-weight="bold" textLength="14.27" lengthAdjust="spacingAndGlyphs">E</text><text x="48.05" y="462.60" font-size="14" font-weight="bold" textLength="44.42" lengthAdjust="spacingAndGlyphs">F4/80+</text><text x="99.72" y="462.60" font-size="14" font-weight="bold" textLength="38.02" lengthAdjust="spacingAndGlyphs">gated</text><path d="M37.3 467.5 L38.1 467.5 L38.1 467.5 L38.9 467.5 L39 526 L39.5 526 L39.5 545 L40 545 L41 545 L41 543 L42 543 L43 543 L43 540 L44 540 L45 540 L45 533 L46 533 L46.75 533 L46.75 533 L47.5 533 L48.25 533 L48.25 538 L49 538 L50 538 L50 540 L51 540 L51.5 540 L51.5 527 L52 527 L53 527 L53 530 L54 530 L54.75 530 L54.75 534 L55.5 534 L56 534 L56 524 L56.5 524 L57.25 524 L57.25 513 L58 513 L58.75 513 L58.75 511 L59.5 511 L60.25 511 L60.25 521 L61 521 L61.75 521 L61.75 522 L62.5 522 L63 522 L63 532 L63.5 532 L64.25 532 L64.25 519 L65 519 L66 519 L66 517 L67 517 L67.5 517 L67.5 533 L68 533 L69 533 L69 537 L70 537 L71 537 L71 538 L72 538 L72.75 538 L72.75 541 L73.5 541 L74.12 541 L74.12 540.26 L75.38 540.26 L75.38 540 L76 540 L76.5 540 L76.5 546 L77 546 L77.5 546 L77.5 552 L78 552 L79 552 L79 557 L80 557 L80.75 557 L80.75 561 L81.5 561 L82.25 561 L82.25 562 L83 562 L84 562 L84 560 L85 560 L86 560 L86 558 L87 558 L88 558 L88 562 L89 562 L90 562 L90 565 L91 565 L92 565 L92 566 L93 566 L94 566 L94 569 L95 569 L96 569 L96 566 L97 566 L98 566 L98 565 L99 565 L100 565 L100 567 L101 567 L102 567 L102 567 L103 567 L103.5 567 L103.5 562 L104 562 L105 562 L105 555 L106 555 L106.5 555 L106.5 566 L107 566 L107.5 566 L107.5 560 L108 560 L109 560 L109 558 L110 558 L111 558 L111 558 L112 558 L113 558 L113 563 L114 563 L115 563 L115 561 L116 561 L117 561 L117 563 L118 563 L119 563 L119 567 L120 567 L121 567 L121 568 L122 568 L123 568 L123 577 L124 577 L124.75 577 L124.75 577.06 L126.25 577.06 L126.25 577 L127 577 L128 577 L128 580 L129 580 L130 580 L130 578 L131 578 L132 578 L132 583 L133 583 L134 583 L134 579 L135 579 L136 579 L136 585 L137 585 L137.75 585 L137.75 585.13 L139.25 585.13 L139.25 586 L140 586 L140.75 586 L140.75 587.18 L142.25 587.18 L142.25 588 L143 588 L143.75 588 L143.75 587.98 L145.25 587.98 L145.25 589 L146 589 L146.75 589 L146.75 589.59 L148.25 589.59 L148.25 589 L149 589 L150 589 L150 587 L151 587 L152 587 L152 592 L153 592 L154 592 L154 592 L155 592" fill="none" stroke="#000" stroke-width="3.1" stroke-linejoin="miter" stroke-miterlimit="2"/>
<g transform="rotate(0.1 405.6 516.4)"><path d="M302.5 440.8H508.7V592" fill="none" stroke="#111" stroke-width="1.5"/><path d="M302.5 440.8V592" stroke="#222" stroke-width="1.1"/><path d="M305.6 441.3V592" stroke="#000" stroke-width="2.2"/><path d="M302 592H510.2" stroke="#000" stroke-width="2"/><path d="M296.5 591.1H302.5" stroke="#000" stroke-width="1.4"/><path d="M299.3 585.12H302.5" stroke="#000" stroke-width="1.3"/><path d="M299.3 579.14H302.5" stroke="#000" stroke-width="1.3"/><path d="M299.3 573.16H302.5" stroke="#000" stroke-width="1.3"/><path d="M299.3 567.18H302.5" stroke="#000" stroke-width="1.3"/><path d="M296.5 561.2H302.5" stroke="#000" stroke-width="1.4"/><path d="M299.3 555.22H302.5" stroke="#000" stroke-width="1.3"/><path d="M299.3 549.24H302.5" stroke="#000" stroke-width="1.3"/><path d="M299.3 543.26H302.5" stroke="#000" stroke-width="1.3"/><path d="M299.3 537.28H302.5" stroke="#000" stroke-width="1.3"/><path d="M296.5 531.3H302.5" stroke="#000" stroke-width="1.4"/><path d="M299.3 525.32H302.5" stroke="#000" stroke-width="1.3"/><path d="M299.3 519.34H302.5" stroke="#000" stroke-width="1.3"/><path d="M299.3 513.36H302.5" stroke="#000" stroke-width="1.3"/><path d="M299.3 507.38H302.5" stroke="#000" stroke-width="1.3"/><path d="M296.5 501.4H302.5" stroke="#000" stroke-width="1.4"/><path d="M299.3 495.42H302.5" stroke="#000" stroke-width="1.3"/><path d="M299.3 489.44H302.5" stroke="#000" stroke-width="1.3"/><path d="M299.3 483.46H302.5" stroke="#000" stroke-width="1.3"/><path d="M299.3 477.48H302.5" stroke="#000" stroke-width="1.3"/><path d="M296.5 471.5H302.5" stroke="#000" stroke-width="1.4"/><path d="M299.3 465.52H302.5" stroke="#000" stroke-width="1.3"/><path d="M299.3 459.54H302.5" stroke="#000" stroke-width="1.3"/><path d="M299.3 453.56H302.5" stroke="#000" stroke-width="1.3"/><path d="M299.3 447.58H302.5" stroke="#000" stroke-width="1.3"/><path d="M296.5 441.6H302.5" stroke="#000" stroke-width="1.4"/><path d="M304 592V597.5" stroke="#000" stroke-width="1.4"/><path d="M319.31 592V595.2" stroke="#000" stroke-width="1.2"/><path d="M328.26 592V595.2" stroke="#000" stroke-width="1.2"/><path d="M334.61 592V595.2" stroke="#000" stroke-width="1.2"/><path d="M339.54 592V595.2" stroke="#000" stroke-width="1.2"/><path d="M343.57 592V595.2" stroke="#000" stroke-width="1.2"/><path d="M346.97 592V595.2" stroke="#000" stroke-width="1.2"/><path d="M349.92 592V595.2" stroke="#000" stroke-width="1.2"/><path d="M352.52 592V595.2" stroke="#000" stroke-width="1.2"/><path d="M354.85 592V597.5" stroke="#000" stroke-width="1.4"/><path d="M370.16 592V595.2" stroke="#000" stroke-width="1.2"/><path d="M379.11 592V595.2" stroke="#000" stroke-width="1.2"/><path d="M385.46 592V595.2" stroke="#000" stroke-width="1.2"/><path d="M390.39 592V595.2" stroke="#000" stroke-width="1.2"/><path d="M394.42 592V595.2" stroke="#000" stroke-width="1.2"/><path d="M397.82 592V595.2" stroke="#000" stroke-width="1.2"/><path d="M400.77 592V595.2" stroke="#000" stroke-width="1.2"/><path d="M403.37 592V595.2" stroke="#000" stroke-width="1.2"/><path d="M405.7 592V597.5" stroke="#000" stroke-width="1.4"/><path d="M421.01 592V595.2" stroke="#000" stroke-width="1.2"/><path d="M429.96 592V595.2" stroke="#000" stroke-width="1.2"/><path d="M436.31 592V595.2" stroke="#000" stroke-width="1.2"/><path d="M441.24 592V595.2" stroke="#000" stroke-width="1.2"/><path d="M445.27 592V595.2" stroke="#000" stroke-width="1.2"/><path d="M448.67 592V595.2" stroke="#000" stroke-width="1.2"/><path d="M451.62 592V595.2" stroke="#000" stroke-width="1.2"/><path d="M454.22 592V595.2" stroke="#000" stroke-width="1.2"/><path d="M456.55 592V597.5" stroke="#000" stroke-width="1.4"/><path d="M471.86 592V595.2" stroke="#000" stroke-width="1.2"/><path d="M480.81 592V595.2" stroke="#000" stroke-width="1.2"/><path d="M487.16 592V595.2" stroke="#000" stroke-width="1.2"/><path d="M492.09 592V595.2" stroke="#000" stroke-width="1.2"/><path d="M496.12 592V595.2" stroke="#000" stroke-width="1.2"/><path d="M499.52 592V595.2" stroke="#000" stroke-width="1.2"/><path d="M502.47 592V595.2" stroke="#000" stroke-width="1.2"/><path d="M505.07 592V595.2" stroke="#000" stroke-width="1.2"/><path d="M507.4 592V597.5" stroke="#000" stroke-width="1.4"/><text transform="translate(292.5 589.1) rotate(-90)" text-anchor="middle" font-size="10.5">0</text><text transform="translate(292.5 559.2) rotate(-90)" text-anchor="middle" font-size="10.5">10</text><text transform="translate(292.5 529.3) rotate(-90)" text-anchor="middle" font-size="10.5">20</text><text transform="translate(292.5 499.4) rotate(-90)" text-anchor="middle" font-size="10.5">30</text><text transform="translate(292.5 469.5) rotate(-90)" text-anchor="middle" font-size="10.5">40</text><text transform="translate(292.5 439.6) rotate(-90)" text-anchor="middle" font-size="10.5">50</text><text transform="translate(279.4 517.4) rotate(-90)" text-anchor="middle" font-size="10.6" textLength="36.7" lengthAdjust="spacingAndGlyphs">Counts</text><text x="304.6" y="610.7" text-anchor="middle" font-size="11.2">10<tspan dy="-5.9" font-size="10">0</tspan></text><text x="355.45" y="610.7" text-anchor="middle" font-size="11.2">10<tspan dy="-5.9" font-size="10">1</tspan></text><text x="406.3" y="610.7" text-anchor="middle" font-size="11.2">10<tspan dy="-5.9" font-size="10">2</tspan></text><text x="457.15" y="610.7" text-anchor="middle" font-size="11.2">10<tspan dy="-5.9" font-size="10">3</tspan></text><text x="508" y="610.7" text-anchor="middle" font-size="11.2">10<tspan dy="-5.9" font-size="10">4</tspan></text><text x="405.55" y="622.9" text-anchor="middle" font-size="10.8" textLength="29.5" lengthAdjust="spacingAndGlyphs">FL1-H</text></g><text x="485.31" y="468.90" font-size="22" font-weight="bold" textLength="13.61" lengthAdjust="spacingAndGlyphs">F</text><text x="322.35" y="462.60" font-size="14" font-weight="bold" textLength="44.73" lengthAdjust="spacingAndGlyphs">F4/80+</text><text x="373.92" y="462.60" font-size="14" font-weight="bold" textLength="38.02" lengthAdjust="spacingAndGlyphs">gated</text><path d="M306 441 L307 441 L307 441 L308 441 L308 472 L308.5 472 L308.5 498 L309 498 L310 498 L310 497 L311 497 L311.5 497 L311.5 505 L312 505 L313 505 L313 512 L314 512 L314.62 512 L314.62 514.07 L315.88 514.07 L315.88 515 L316.5 515 L317.25 515 L317.25 519 L318 519 L318.5 519 L318.5 510 L319 510 L319.75 510 L319.75 507 L320.5 507 L321.25 507 L321.25 516 L322 516 L323 516 L323 525 L324 525 L324.75 525 L324.75 533 L325.5 533 L326.5 533 L326.5 538 L327.5 538 L328.5 538 L328.5 538 L329.5 538 L330.5 538 L330.5 548 L331.5 548 L332.5 548 L332.5 551 L333.5 551 L334.12 551 L334.12 553.65 L335.38 553.65 L335.38 556 L336 556 L337 556 L337 560 L338 560 L339 560 L339 563 L340 563 L341 563 L341 566 L342 566 L343 566 L343 567 L344 567 L344.5 567 L344.5 571 L345 571 L346 571 L346 567 L347 567 L347.75 567 L347.75 566.91 L349.25 566.91 L349.25 567 L350 567 L350.75 567 L350.75 568.06 L352.25 568.06 L352.25 569 L353 569 L354 569 L354 571 L355 571 L356 571 L356 576 L357 576 L358 576 L358 572 L359 572 L360 572 L360 570 L361 570 L362 570 L362 571 L363 571 L364 571 L364 578 L365 578 L366 578 L366 576 L367 576 L368 576 L368 579 L369 579 L370 579 L370 583 L371 583 L372 583 L372 578 L373 578 L373.75 578 L373.75 577.13 L375.25 577.13 L375.25 576 L376 576 L377 576 L377 576 L378 576 L379 576 L379 583 L380 583 L380.75 583 L380.75 584.29 L382.25 584.29 L382.25 585 L383 585 L383.75 585 L383.75 585.25 L385.25 585.25 L385.25 586 L386 586 L387 586 L387 586.41 L389 586.41 L389 587 L390 587 L391 587 L391 587.56 L393 587.56 L393 587 L394 587 L394.75 587 L394.75 587.64 L396.25 587.64 L396.25 588 L397 588 L398 588 L398 590 L399 590 L400 590 L400 592 L401 592 L402 592 L402 588 L403 588 L404 588 L404 592 L405 592 L406 592 L406 592 L407 592" fill="none" stroke="#000" stroke-width="3.1" stroke-linejoin="miter" stroke-miterlimit="2"/>
<g transform="rotate(-0.33 138.1 731.5)"><path d="M34.4 655.5H241.8V807.6" fill="none" stroke="#111" stroke-width="1.5"/><path d="M34.4 655.5V807.6" stroke="#222" stroke-width="1.1"/><path d="M37.5 656V807.6" stroke="#000" stroke-width="2.2"/><path d="M33.9 807.6H243.3" stroke="#000" stroke-width="2"/><path d="M28.4 806.7H34.4" stroke="#000" stroke-width="1.4"/><path d="M31.2 801.69H34.4" stroke="#000" stroke-width="1.3"/><path d="M31.2 796.67H34.4" stroke="#000" stroke-width="1.3"/><path d="M31.2 791.66H34.4" stroke="#000" stroke-width="1.3"/><path d="M31.2 786.65H34.4" stroke="#000" stroke-width="1.3"/><path d="M28.4 781.63H34.4" stroke="#000" stroke-width="1.4"/><path d="M31.2 776.62H34.4" stroke="#000" stroke-width="1.3"/><path d="M31.2 771.61H34.4" stroke="#000" stroke-width="1.3"/><path d="M31.2 766.59H34.4" stroke="#000" stroke-width="1.3"/><path d="M31.2 761.58H34.4" stroke="#000" stroke-width="1.3"/><path d="M28.4 756.57H34.4" stroke="#000" stroke-width="1.4"/><path d="M31.2 751.55H34.4" stroke="#000" stroke-width="1.3"/><path d="M31.2 746.54H34.4" stroke="#000" stroke-width="1.3"/><path d="M31.2 741.53H34.4" stroke="#000" stroke-width="1.3"/><path d="M31.2 736.51H34.4" stroke="#000" stroke-width="1.3"/><path d="M28.4 731.5H34.4" stroke="#000" stroke-width="1.4"/><path d="M31.2 726.49H34.4" stroke="#000" stroke-width="1.3"/><path d="M31.2 721.47H34.4" stroke="#000" stroke-width="1.3"/><path d="M31.2 716.46H34.4" stroke="#000" stroke-width="1.3"/><path d="M31.2 711.45H34.4" stroke="#000" stroke-width="1.3"/><path d="M28.4 706.43H34.4" stroke="#000" stroke-width="1.4"/><path d="M31.2 701.42H34.4" stroke="#000" stroke-width="1.3"/><path d="M31.2 696.41H34.4" stroke="#000" stroke-width="1.3"/><path d="M31.2 691.39H34.4" stroke="#000" stroke-width="1.3"/><path d="M31.2 686.38H34.4" stroke="#000" stroke-width="1.3"/><path d="M28.4 681.37H34.4" stroke="#000" stroke-width="1.4"/><path d="M31.2 676.35H34.4" stroke="#000" stroke-width="1.3"/><path d="M31.2 671.34H34.4" stroke="#000" stroke-width="1.3"/><path d="M31.2 666.33H34.4" stroke="#000" stroke-width="1.3"/><path d="M31.2 661.31H34.4" stroke="#000" stroke-width="1.3"/><path d="M28.4 656.3H34.4" stroke="#000" stroke-width="1.4"/><path d="M35.9 807.6V813.1" stroke="#000" stroke-width="1.4"/><path d="M51.3 807.6V810.8" stroke="#000" stroke-width="1.2"/><path d="M60.3 807.6V810.8" stroke="#000" stroke-width="1.2"/><path d="M66.7 807.6V810.8" stroke="#000" stroke-width="1.2"/><path d="M71.65 807.6V810.8" stroke="#000" stroke-width="1.2"/><path d="M75.7 807.6V810.8" stroke="#000" stroke-width="1.2"/><path d="M79.13 807.6V810.8" stroke="#000" stroke-width="1.2"/><path d="M82.09 807.6V810.8" stroke="#000" stroke-width="1.2"/><path d="M84.71 807.6V810.8" stroke="#000" stroke-width="1.2"/><path d="M87.05 807.6V813.1" stroke="#000" stroke-width="1.4"/><path d="M102.45 807.6V810.8" stroke="#000" stroke-width="1.2"/><path d="M111.45 807.6V810.8" stroke="#000" stroke-width="1.2"/><path d="M117.85 807.6V810.8" stroke="#000" stroke-width="1.2"/><path d="M122.8 807.6V810.8" stroke="#000" stroke-width="1.2"/><path d="M126.85 807.6V810.8" stroke="#000" stroke-width="1.2"/><path d="M130.28 807.6V810.8" stroke="#000" stroke-width="1.2"/><path d="M133.24 807.6V810.8" stroke="#000" stroke-width="1.2"/><path d="M135.86 807.6V810.8" stroke="#000" stroke-width="1.2"/><path d="M138.2 807.6V813.1" stroke="#000" stroke-width="1.4"/><path d="M153.6 807.6V810.8" stroke="#000" stroke-width="1.2"/><path d="M162.6 807.6V810.8" stroke="#000" stroke-width="1.2"/><path d="M169 807.6V810.8" stroke="#000" stroke-width="1.2"/><path d="M173.95 807.6V810.8" stroke="#000" stroke-width="1.2"/><path d="M178 807.6V810.8" stroke="#000" stroke-width="1.2"/><path d="M181.43 807.6V810.8" stroke="#000" stroke-width="1.2"/><path d="M184.39 807.6V810.8" stroke="#000" stroke-width="1.2"/><path d="M187.01 807.6V810.8" stroke="#000" stroke-width="1.2"/><path d="M189.35 807.6V813.1" stroke="#000" stroke-width="1.4"/><path d="M204.75 807.6V810.8" stroke="#000" stroke-width="1.2"/><path d="M213.75 807.6V810.8" stroke="#000" stroke-width="1.2"/><path d="M220.15 807.6V810.8" stroke="#000" stroke-width="1.2"/><path d="M225.1 807.6V810.8" stroke="#000" stroke-width="1.2"/><path d="M229.15 807.6V810.8" stroke="#000" stroke-width="1.2"/><path d="M232.58 807.6V810.8" stroke="#000" stroke-width="1.2"/><path d="M235.54 807.6V810.8" stroke="#000" stroke-width="1.2"/><path d="M238.16 807.6V810.8" stroke="#000" stroke-width="1.2"/><path d="M240.5 807.6V813.1" stroke="#000" stroke-width="1.4"/><text transform="translate(24.4 804.7) rotate(-90)" text-anchor="middle" font-size="10.5">0</text><text transform="translate(24.4 779.63) rotate(-90)" text-anchor="middle" font-size="10.5">20</text><text transform="translate(24.4 754.57) rotate(-90)" text-anchor="middle" font-size="10.5">40</text><text transform="translate(24.4 729.5) rotate(-90)" text-anchor="middle" font-size="10.5">60</text><text transform="translate(24.4 704.43) rotate(-90)" text-anchor="middle" font-size="10.5">80</text><text transform="translate(24.4 679.37) rotate(-90)" text-anchor="middle" font-size="10.5">100</text><text transform="translate(24.4 654.3) rotate(-90)" text-anchor="middle" font-size="10.5">120</text><text transform="translate(11.3 732.55) rotate(-90)" text-anchor="middle" font-size="10.6" textLength="36.7" lengthAdjust="spacingAndGlyphs">Counts</text><text x="36.5" y="826.3" text-anchor="middle" font-size="11.2">10<tspan dy="-5.9" font-size="10">0</tspan></text><text x="87.65" y="826.3" text-anchor="middle" font-size="11.2">10<tspan dy="-5.9" font-size="10">1</tspan></text><text x="138.8" y="826.3" text-anchor="middle" font-size="11.2">10<tspan dy="-5.9" font-size="10">2</tspan></text><text x="189.95" y="826.3" text-anchor="middle" font-size="11.2">10<tspan dy="-5.9" font-size="10">3</tspan></text><text x="241.1" y="826.3" text-anchor="middle" font-size="11.2">10<tspan dy="-5.9" font-size="10">4</tspan></text><text x="138.05" y="838.5" text-anchor="middle" font-size="10.8" textLength="29.5" lengthAdjust="spacingAndGlyphs">FL1-H</text></g><text x="211.87" y="684.20" font-size="22" font-weight="bold" textLength="17.64" lengthAdjust="spacingAndGlyphs">G</text><text x="48.06" y="675.00" font-size="14" font-weight="bold" textLength="41.71" lengthAdjust="spacingAndGlyphs">B220+</text><text x="97.71" y="675.00" font-size="14" font-weight="bold" textLength="38.34" lengthAdjust="spacingAndGlyphs">gated</text><path d="M38.5 687 L39.25 687 L39.25 687 L40 687 L40 724 L40.75 724 L40.75 724 L41.5 724 L41.5 703 L42.5 703 L42.5 703 L43.5 703 L43.5 722 L44.5 722 L44.5 722 L45.5 722 L45.5 712 L46 712 L46 712 L46.5 712 L46.5 699 L47.5 699 L47.5 699 L48.5 699 L48.5 708 L49.25 708 L49.25 711 L50 711 L50.75 711 L50.75 711.08 L52.25 711.08 L52.25 711 L53 711 L54 711 L54 714 L55 714 L55.75 714 L55.75 718 L56.5 718 L57 718 L57 725 L57.5 725 L58.25 725 L58.25 732 L59 732 L60 732 L60 740 L61 740 L62 740 L62 750 L63 750 L64 750 L64 760 L65 760 L66 760 L66 767 L67 767 L68 767 L68 774 L69 774 L70 774 L70 778 L71 778 L71.5 778 L71.5 778 L72 778 L73 778 L73 788 L74 788 L75 788 L75 793 L76 793 L76.75 793 L76.75 794.87 L78.25 794.87 L78.25 797 L79 797 L79.75 797 L79.75 798.49 L81.25 798.49 L81.25 800 L82 800 L82.75 800 L82.75 801.98 L84.25 801.98 L84.25 803 L85 803 L86 803 L86 806 L87 806 L88 806 L88 803 L89 803 L89.75 803 L89.75 803.59 L91.25 803.59 L91.25 804 L92 804 L93 804 L93 804.34 L95 804.34 L95 804 L96 804 L97 804 L97 803 L98 803 L98.75 803 L98.75 804.54 L100.25 804.54 L100.25 805 L101 805 L102 805 L102 805.41 L104 805.41 L104 805 L105 805 L105.83 805 L105.83 805.14 L107.5 805.14 L107.5 805.6 L109.17 805.6 L109.17 806 L110 806 L110.83 806 L110.83 806.47 L112.5 806.47 L112.5 806.05 L114.17 806.05 L114.17 806.5 L115 806.5 L115.83 806.5 L115.83 806.48 L117.5 806.48 L117.5 806.64 L119.17 806.64 L119.17 806.5 L120 806.5" fill="none" stroke="#000" stroke-width="3.1" stroke-linejoin="miter" stroke-miterlimit="2"/>
<g transform="rotate(0.14 406.6 731.3)"><path d="M303.8 655.2H509.4V807.4" fill="none" stroke="#111" stroke-width="1.5"/><path d="M303.8 655.2V807.4" stroke="#222" stroke-width="1.1"/><path d="M306.9 655.7V807.4" stroke="#000" stroke-width="2.2"/><path d="M303.3 807.4H510.9" stroke="#000" stroke-width="2"/><path d="M297.8 806.5H303.8" stroke="#000" stroke-width="1.4"/><path d="M300.6 802.74H303.8" stroke="#000" stroke-width="1.3"/><path d="M300.6 798.98H303.8" stroke="#000" stroke-width="1.3"/><path d="M300.6 795.21H303.8" stroke="#000" stroke-width="1.3"/><path d="M300.6 791.45H303.8" stroke="#000" stroke-width="1.3"/><path d="M297.8 787.69H303.8" stroke="#000" stroke-width="1.4"/><path d="M300.6 783.92H303.8" stroke="#000" stroke-width="1.3"/><path d="M300.6 780.16H303.8" stroke="#000" stroke-width="1.3"/><path d="M300.6 776.4H303.8" stroke="#000" stroke-width="1.3"/><path d="M300.6 772.64H303.8" stroke="#000" stroke-width="1.3"/><path d="M297.8 768.88H303.8" stroke="#000" stroke-width="1.4"/><path d="M300.6 765.11H303.8" stroke="#000" stroke-width="1.3"/><path d="M300.6 761.35H303.8" stroke="#000" stroke-width="1.3"/><path d="M300.6 757.59H303.8" stroke="#000" stroke-width="1.3"/><path d="M300.6 753.83H303.8" stroke="#000" stroke-width="1.3"/><path d="M297.8 750.06H303.8" stroke="#000" stroke-width="1.4"/><path d="M300.6 746.3H303.8" stroke="#000" stroke-width="1.3"/><path d="M300.6 742.54H303.8" stroke="#000" stroke-width="1.3"/><path d="M300.6 738.77H303.8" stroke="#000" stroke-width="1.3"/><path d="M300.6 735.01H303.8" stroke="#000" stroke-width="1.3"/><path d="M297.8 731.25H303.8" stroke="#000" stroke-width="1.4"/><path d="M300.6 727.49H303.8" stroke="#000" stroke-width="1.3"/><path d="M300.6 723.73H303.8" stroke="#000" stroke-width="1.3"/><path d="M300.6 719.96H303.8" stroke="#000" stroke-width="1.3"/><path d="M300.6 716.2H303.8" stroke="#000" stroke-width="1.3"/><path d="M297.8 712.44H303.8" stroke="#000" stroke-width="1.4"/><path d="M300.6 708.67H303.8" stroke="#000" stroke-width="1.3"/><path d="M300.6 704.91H303.8" stroke="#000" stroke-width="1.3"/><path d="M300.6 701.15H303.8" stroke="#000" stroke-width="1.3"/><path d="M300.6 697.39H303.8" stroke="#000" stroke-width="1.3"/><path d="M297.8 693.62H303.8" stroke="#000" stroke-width="1.4"/><path d="M300.6 689.86H303.8" stroke="#000" stroke-width="1.3"/><path d="M300.6 686.1H303.8" stroke="#000" stroke-width="1.3"/><path d="M300.6 682.34H303.8" stroke="#000" stroke-width="1.3"/><path d="M300.6 678.58H303.8" stroke="#000" stroke-width="1.3"/><path d="M297.8 674.81H303.8" stroke="#000" stroke-width="1.4"/><path d="M300.6 671.05H303.8" stroke="#000" stroke-width="1.3"/><path d="M300.6 667.29H303.8" stroke="#000" stroke-width="1.3"/><path d="M300.6 663.52H303.8" stroke="#000" stroke-width="1.3"/><path d="M300.6 659.76H303.8" stroke="#000" stroke-width="1.3"/><path d="M297.8 656H303.8" stroke="#000" stroke-width="1.4"/><path d="M305.3 807.4V812.9" stroke="#000" stroke-width="1.4"/><path d="M320.56 807.4V810.6" stroke="#000" stroke-width="1.2"/><path d="M329.49 807.4V810.6" stroke="#000" stroke-width="1.2"/><path d="M335.82 807.4V810.6" stroke="#000" stroke-width="1.2"/><path d="M340.74 807.4V810.6" stroke="#000" stroke-width="1.2"/><path d="M344.75 807.4V810.6" stroke="#000" stroke-width="1.2"/><path d="M348.15 807.4V810.6" stroke="#000" stroke-width="1.2"/><path d="M351.09 807.4V810.6" stroke="#000" stroke-width="1.2"/><path d="M353.68 807.4V810.6" stroke="#000" stroke-width="1.2"/><path d="M356 807.4V812.9" stroke="#000" stroke-width="1.4"/><path d="M371.26 807.4V810.6" stroke="#000" stroke-width="1.2"/><path d="M380.19 807.4V810.6" stroke="#000" stroke-width="1.2"/><path d="M386.52 807.4V810.6" stroke="#000" stroke-width="1.2"/><path d="M391.44 807.4V810.6" stroke="#000" stroke-width="1.2"/><path d="M395.45 807.4V810.6" stroke="#000" stroke-width="1.2"/><path d="M398.85 807.4V810.6" stroke="#000" stroke-width="1.2"/><path d="M401.79 807.4V810.6" stroke="#000" stroke-width="1.2"/><path d="M404.38 807.4V810.6" stroke="#000" stroke-width="1.2"/><path d="M406.7 807.4V812.9" stroke="#000" stroke-width="1.4"/><path d="M421.96 807.4V810.6" stroke="#000" stroke-width="1.2"/><path d="M430.89 807.4V810.6" stroke="#000" stroke-width="1.2"/><path d="M437.22 807.4V810.6" stroke="#000" stroke-width="1.2"/><path d="M442.14 807.4V810.6" stroke="#000" stroke-width="1.2"/><path d="M446.15 807.4V810.6" stroke="#000" stroke-width="1.2"/><path d="M449.55 807.4V810.6" stroke="#000" stroke-width="1.2"/><path d="M452.49 807.4V810.6" stroke="#000" stroke-width="1.2"/><path d="M455.08 807.4V810.6" stroke="#000" stroke-width="1.2"/><path d="M457.4 807.4V812.9" stroke="#000" stroke-width="1.4"/><path d="M472.66 807.4V810.6" stroke="#000" stroke-width="1.2"/><path d="M481.59 807.4V810.6" stroke="#000" stroke-width="1.2"/><path d="M487.92 807.4V810.6" stroke="#000" stroke-width="1.2"/><path d="M492.84 807.4V810.6" stroke="#000" stroke-width="1.2"/><path d="M496.85 807.4V810.6" stroke="#000" stroke-width="1.2"/><path d="M500.25 807.4V810.6" stroke="#000" stroke-width="1.2"/><path d="M503.19 807.4V810.6" stroke="#000" stroke-width="1.2"/><path d="M505.78 807.4V810.6" stroke="#000" stroke-width="1.2"/><path d="M508.1 807.4V812.9" stroke="#000" stroke-width="1.4"/><text transform="translate(293.8 804.5) rotate(-90)" text-anchor="middle" font-size="10.5">0</text><text transform="translate(293.8 785.69) rotate(-90)" text-anchor="middle" font-size="10.5">10</text><text transform="translate(293.8 766.88) rotate(-90)" text-anchor="middle" font-size="10.5">20</text><text transform="translate(293.8 748.06) rotate(-90)" text-anchor="middle" font-size="10.5">30</text><text transform="translate(293.8 729.25) rotate(-90)" text-anchor="middle" font-size="10.5">40</text><text transform="translate(293.8 710.44) rotate(-90)" text-anchor="middle" font-size="10.5">50</text><text transform="translate(293.8 691.62) rotate(-90)" text-anchor="middle" font-size="10.5">60</text><text transform="translate(293.8 672.81) rotate(-90)" text-anchor="middle" font-size="10.5">70</text><text transform="translate(293.8 654) rotate(-90)" text-anchor="middle" font-size="10.5">80</text><text transform="translate(280.7 732.3) rotate(-90)" text-anchor="middle" font-size="10.6" textLength="36.7" lengthAdjust="spacingAndGlyphs">Counts</text><text x="305.9" y="826.1" text-anchor="middle" font-size="11.2">10<tspan dy="-5.9" font-size="10">0</tspan></text><text x="356.6" y="826.1" text-anchor="middle" font-size="11.2">10<tspan dy="-5.9" font-size="10">1</tspan></text><text x="407.3" y="826.1" text-anchor="middle" font-size="11.2">10<tspan dy="-5.9" font-size="10">2</tspan></text><text x="458" y="826.1" text-anchor="middle" font-size="11.2">10<tspan dy="-5.9" font-size="10">3</tspan></text><text x="508.7" y="826.1" text-anchor="middle" font-size="11.2">10<tspan dy="-5.9" font-size="10">4</tspan></text><text x="406.55" y="838.3" text-anchor="middle" font-size="10.8" textLength="29.5" lengthAdjust="spacingAndGlyphs">FL1-H</text></g><text x="483.40" y="684.40" font-size="22" font-weight="bold" textLength="16.21" lengthAdjust="spacingAndGlyphs">H</text><text x="318.44" y="677.40" font-size="14" font-weight="bold" textLength="52.63" lengthAdjust="spacingAndGlyphs">Thy1.2+</text><text x="375.21" y="677.40" font-size="14" font-weight="bold" textLength="38.55" lengthAdjust="spacingAndGlyphs">gated</text><path d="M308.5 693 L309.25 693 L309.25 693 L310 693 L310 740 L310.5 740 L310.5 745 L311 745 L311.5 745 L311.5 740 L312 740 L312.5 740 L312.5 738 L313 738 L313.25 738 L313.25 721 L313.5 721 L314 721 L314 735 L314.5 735 L315.25 735 L315.25 738 L316 738 L316.5 738 L316.5 746 L317 746 L317.75 746 L317.75 741 L318.5 741 L319.25 741 L319.25 740 L320 740 L321 740 L321 743 L322 743 L323 743 L323 748 L324 748 L324.5 748 L324.5 752 L325 752 L325.62 752 L325.62 752.83 L326.88 752.83 L326.88 754 L327.5 754 L328 754 L328 752 L328.5 752 L329.25 752 L329.25 758 L330 758 L331 758 L331 764 L332 764 L333 764 L333 770 L334 770 L335 770 L335 776 L336 776 L336.75 776 L336.75 782 L337.5 782 L338.25 782 L338.25 788 L339 788 L339.75 788 L339.75 795 L340.5 795 L341.25 795 L341.25 799 L342 799 L343 799 L343 802 L344 802 L345 802 L345 804 L346 804 L347 804 L347 804.91 L349 804.91 L349 805 L350 805 L350.8 805 L350.8 805.3 L352.4 805.3 L352.4 805.44 L354 805.44 L354 804.5 L355.6 804.5 L355.6 805.37 L357.2 805.37 L357.2 805 L358 805 L359 805 L359 805 L360 805 L360.5 805 L360.5 803.5 L361 803.5 L361.5 803.5 L361.5 805 L362 805 L362.75 805 L362.75 804.86 L364.25 804.86 L364.25 804.53 L365.75 804.53 L365.75 804.84 L367.25 804.84 L367.25 805 L368 805 L368.5 805 L368.5 803.5 L369 803.5 L369.5 803.5 L369.5 805 L370 805 L370.75 805 L370.75 805.25 L372.25 805.25 L372.25 804.81 L373.75 804.81 L373.75 805.53 L375.25 805.53 L375.25 805 L376 805 L376.5 805 L376.5 803.5 L377 803.5 L377.5 803.5 L377.5 805 L378 805 L378.75 805 L378.75 805.39 L380.25 805.39 L380.25 805.18 L381.75 805.18 L381.75 805.31 L383.25 805.31 L383.25 804.88 L384.75 804.88 L384.75 804.62 L386.25 804.62 L386.25 805 L387 805 L387.5 805 L387.5 803.5 L388 803.5 L388.5 803.5 L388.5 805 L389 805 L389.75 805 L389.75 805.48 L391.25 805.48 L391.25 805.5 L392 805.5" fill="none" stroke="#000" stroke-width="3.1" stroke-linejoin="miter" stroke-miterlimit="2"/>
</svg>
</body></html>
